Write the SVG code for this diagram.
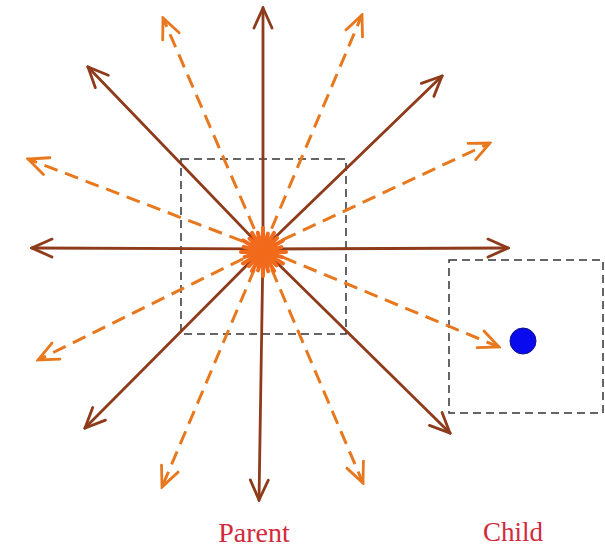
<svg xmlns="http://www.w3.org/2000/svg" width="605" height="550" viewBox="0 0 605 550">
<defs>
<style>
.solid{stroke:#8E3B1C;stroke-width:2.8;fill:none;stroke-linecap:round;marker-end:url(#ahB)}
.dash{stroke:#E8781E;stroke-width:3;fill:none;stroke-dasharray:14 8;marker-end:url(#ahO)}
.box{fill:none;stroke:#333;stroke-width:1.5;stroke-dasharray:8 5}
.lbl{font-family:"Liberation Serif","Times New Roman",serif;fill:#D22A3C;text-anchor:middle}
.spk{stroke:#F26A1B;stroke-width:4;stroke-linecap:round}
</style>
<marker id="ahB" viewBox="-24 -12 26 24" refX="0" refY="0" markerWidth="26" markerHeight="24" orient="auto" markerUnits="userSpaceOnUse">
<path d="M-20,-9 L0,0 L-20,9" fill="none" stroke="#8E3B1C" stroke-width="2.8" stroke-linecap="round"/>
</marker>
<marker id="ahO" viewBox="-24 -12 26 24" refX="0" refY="0" markerWidth="26" markerHeight="24" orient="auto" markerUnits="userSpaceOnUse">
<path d="M-20,-9 L0,0 L-20,9" fill="none" stroke="#E8781E" stroke-width="2.8" stroke-linecap="round"/>
</marker>
</defs>
<rect width="605" height="550" fill="#fff"/>
<g id="parent-box"><rect class="box" x="181" y="159" width="165" height="175"/></g>
<g id="child-box"><rect class="box" x="449" y="260" width="154" height="153"/></g>
<g id="connectors">
<line class="dash" x1="263" y1="249" x2="163" y2="18"/>
<line class="dash" x1="263" y1="249" x2="28" y2="159"/>
<line class="dash" x1="263" y1="249" x2="362" y2="15"/>
<line class="dash" x1="263" y1="249" x2="490" y2="143"/>
<line class="dash" x1="263" y1="249" x2="499" y2="347"/>
<line class="dash" x1="263" y1="249" x2="363" y2="483"/>
<line class="dash" x1="263" y1="249" x2="162" y2="487"/>
<line class="dash" x1="263" y1="249" x2="38" y2="360"/>
<line class="solid" x1="263" y1="249" x2="263" y2="8"/>
<line class="solid" x1="263" y1="249" x2="88" y2="67"/>
<line class="solid" x1="263" y1="249" x2="32" y2="248"/>
<line class="solid" x1="263" y1="249" x2="508" y2="248"/>
<line class="solid" x1="263" y1="249" x2="442" y2="76"/>
<line class="solid" x1="263" y1="249" x2="85" y2="428"/>
<line class="solid" x1="263" y1="249" x2="259" y2="500"/>
<line class="solid" x1="263" y1="249" x2="450" y2="433"/>
</g>
<g id="parent-source" transform="translate(263,252)">
<circle r="15" fill="#F26A1B"/>
<line class="spk" x1="0" y1="0" x2="23" y2="0" transform="rotate(0)"/>
<line class="spk" x1="0" y1="0" x2="20" y2="0" transform="rotate(15)"/>
<line class="spk" x1="0" y1="0" x2="23" y2="0" transform="rotate(30)"/>
<line class="spk" x1="0" y1="0" x2="19" y2="0" transform="rotate(45)"/>
<line class="spk" x1="0" y1="0" x2="22" y2="0" transform="rotate(60)"/>
<line class="spk" x1="0" y1="0" x2="20" y2="0" transform="rotate(75)"/>
<line class="spk" x1="0" y1="0" x2="24" y2="0" transform="rotate(90)"/>
<line class="spk" x1="0" y1="0" x2="19" y2="0" transform="rotate(105)"/>
<line class="spk" x1="0" y1="0" x2="22" y2="0" transform="rotate(120)"/>
<line class="spk" x1="0" y1="0" x2="20" y2="0" transform="rotate(135)"/>
<line class="spk" x1="0" y1="0" x2="23" y2="0" transform="rotate(150)"/>
<line class="spk" x1="0" y1="0" x2="19" y2="0" transform="rotate(165)"/>
<line class="spk" x1="0" y1="0" x2="22" y2="0" transform="rotate(180)"/>
<line class="spk" x1="0" y1="0" x2="20" y2="0" transform="rotate(195)"/>
<line class="spk" x1="0" y1="0" x2="23" y2="0" transform="rotate(210)"/>
<line class="spk" x1="0" y1="0" x2="19" y2="0" transform="rotate(225)"/>
<line class="spk" x1="0" y1="0" x2="22" y2="0" transform="rotate(240)"/>
<line class="spk" x1="0" y1="0" x2="20" y2="0" transform="rotate(255)"/>
<line class="spk" x1="0" y1="0" x2="24" y2="0" transform="rotate(270)"/>
<line class="spk" x1="0" y1="0" x2="19" y2="0" transform="rotate(285)"/>
<line class="spk" x1="0" y1="0" x2="22" y2="0" transform="rotate(300)"/>
<line class="spk" x1="0" y1="0" x2="20" y2="0" transform="rotate(315)"/>
<line class="spk" x1="0" y1="0" x2="23" y2="0" transform="rotate(330)"/>
<line class="spk" x1="0" y1="0" x2="19" y2="0" transform="rotate(345)"/>
</g>
<g id="child-dot"><circle cx="523" cy="341" r="13" fill="#0A0AEE" stroke="#10108A" stroke-width="1"/></g>
<g id="label-parent"><text class="lbl" x="254" y="542" font-size="28">Parent</text></g>
<g id="label-child"><text class="lbl" x="513" y="541" font-size="27">Child</text></g>
</svg>
